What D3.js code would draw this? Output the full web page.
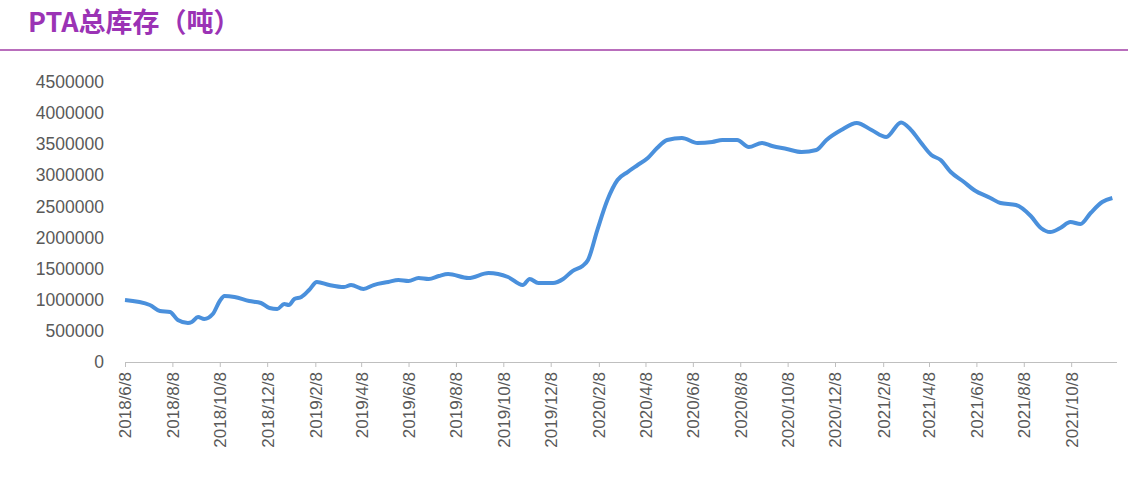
<!DOCTYPE html>
<html><head><meta charset="utf-8">
<script src="https://cdn.jsdelivr.net/npm/d3@7"></script>
<style>body{margin:0;background:#fff;}svg{display:block;}</style>
</head><body>
<svg id="c" width="1128" height="496"></svg>
<script>
const title = "PTA总库存（吨）";
const dates = ["2018-06-08","2018-07-10","2018-07-23","2018-08-05","2018-08-15","2018-08-28","2018-09-02","2018-09-10","2018-09-18","2018-09-29","2018-10-08","2018-10-14","2018-10-27","2018-11-15","2018-11-30","2018-12-11","2018-12-21","2018-12-30","2019-01-05","2019-01-12","2019-01-21","2019-01-31","2019-02-10","2019-02-26","2019-03-17","2019-03-26","2019-04-11","2019-04-24","2019-05-13","2019-05-26","2019-06-08","2019-06-21","2019-07-04","2019-07-17","2019-07-29","2019-08-24","2019-09-19","2019-10-14","2019-11-02","2019-11-11","2019-11-22","2019-12-11","2019-12-24","2020-01-05","2020-01-18","2020-01-25","2020-02-06","2020-02-19","2020-03-03","2020-03-16","2020-03-29","2020-04-11","2020-04-23","2020-05-06","2020-05-25","2020-06-14","2020-07-03","2020-07-16","2020-08-04","2020-08-19","2020-09-05","2020-09-18","2020-10-07","2020-10-26","2020-11-14","2020-11-27","2020-12-16","2021-01-05","2021-01-24","2021-02-12","2021-03-03","2021-03-16","2021-03-29","2021-04-11","2021-04-23","2021-05-06","2021-05-23","2021-06-05","2021-06-26","2021-07-09","2021-07-29","2021-08-17","2021-08-30","2021-09-11","2021-09-24","2021-10-07","2021-10-20","2021-11-02","2021-11-17","2021-11-30"];
const inventory = [996000,916000,820000,804000,675000,627000,643000,723000,691000,771000,980000,1061000,1045000,980000,948000,868000,852000,932000,916000,1012000,1045000,1157000,1286000,1237000,1205000,1237000,1173000,1237000,1286000,1318000,1302000,1350000,1334000,1382000,1414000,1350000,1430000,1366000,1237000,1334000,1270000,1270000,1334000,1462000,1543000,1639000,2121000,2604000,2925000,3053000,3166000,3278000,3439000,3568000,3600000,3520000,3536000,3568000,3568000,3455000,3520000,3471000,3423000,3375000,3407000,3568000,3728000,3841000,3728000,3616000,3850000,3728000,3520000,3327000,3246000,3053000,2893000,2764000,2636000,2555000,2523000,2346000,2154000,2089000,2154000,2250000,2218000,2395000,2571000,2636000];
const yTicks = [0,500000,1000000,1500000,2000000,2500000,3000000,3500000,4000000,4500000];
const xTickLabels = ["2018/6/8","2018/8/8","2018/10/8","2018/12/8","2019/2/8","2019/4/8","2019/6/8","2019/8/8","2019/10/8","2019/12/8","2020/2/8","2020/4/8","2020/6/8","2020/8/8","2020/10/8","2020/12/8","2021/2/8","2021/4/8","2021/6/8","2021/8/8","2021/10/8"];

const svg = d3.select("#c");
const font = "'Noto Sans CJK SC','Liberation Sans',sans-serif";
const parse = d3.timeParse("%Y-%m-%d");
const tparse = d3.timeParse("%Y/%m/%d");
const data = dates.map((d,i)=>({d:parse(d),v:inventory[i]}));

svg.append("text").attr("x",28).attr("y",32).text(title)
  .attr("font-family",font).attr("font-weight","bold").attr("font-size",27).attr("fill","#9b33b5");
svg.append("line").attr("x1",0).attr("x2",1128).attr("y1",50).attr("y2",50).attr("stroke","#a23ea6").attr("stroke-width",1.5);

const x = d3.scaleTime().domain([parse("2018-06-08"),parse("2021-12-06")]).range([125,1117]);
const y = d3.scaleLinear().domain([0,4500000]).range([362,82]);

const ya = svg.append("g").attr("transform","translate(125,0)")
  .call(d3.axisLeft(y).tickValues(yTicks).tickFormat(d3.format("d")).tickSize(0).tickPadding(21));
ya.select(".domain").remove();
ya.selectAll("text").attr("font-family","'Liberation Sans',sans-serif").attr("font-size",17.5).attr("fill","#595959");

const xa = svg.append("g").attr("transform","translate(0,362)")
  .call(d3.axisBottom(x).tickValues(xTickLabels.map(tparse)).tickFormat((d,i)=>xTickLabels[i]).tickSize(5));
xa.select(".domain").attr("stroke","#bfbfbf").attr("d","M125,0.5H1117");
xa.selectAll("line").attr("stroke","#bfbfbf");
xa.selectAll("text").attr("font-family","'Liberation Sans',sans-serif").attr("font-size",17).attr("fill","#595959")
  .attr("transform","rotate(-90)").attr("text-anchor","end").attr("dx","-10").attr("dy","0.35em").attr("y",0).attr("x",0);

svg.append("path").datum(data)
  .attr("d",d3.line().x(d=>x(d.d)).y(d=>y(d.v)).curve(d3.curveMonotoneX))
  .attr("fill","none").attr("stroke","#4a90dc").attr("stroke-width",4).attr("stroke-linejoin","round");
</script>
</body></html>
